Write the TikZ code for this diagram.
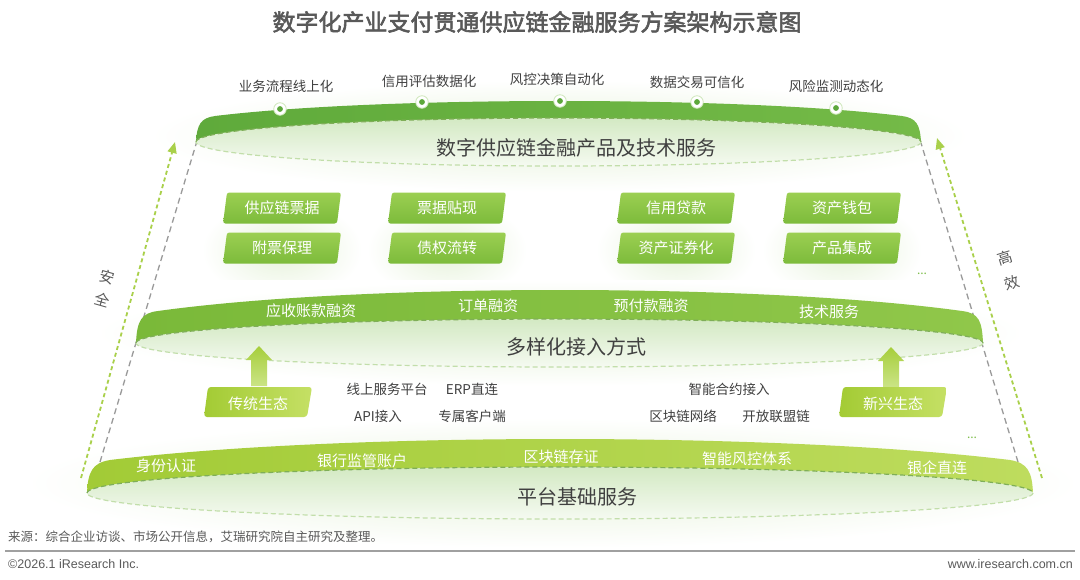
\documentclass[tikz,border=0pt]{standalone}
\usepackage{fontspec}
\setmainfont{Noto Sans CJK SC}[AutoFakeBold=2.5]
\newfontfamily\latinf{Liberation Sans}
\usetikzlibrary{arrows.meta}
\definecolor{txt}{HTML}{404040}
\definecolor{ttl}{HTML}{595959}
\definecolor{glow}{HTML}{E6F2DA}
\definecolor{topL}{HTML}{5FAA3B}
\definecolor{topR}{HTML}{74BA47}
\definecolor{midL}{HTML}{7AB939}
\definecolor{midR}{HTML}{90C74A}
\definecolor{botL}{HTML}{A2CB36}
\definecolor{botR}{HTML}{BEDC5E}
\definecolor{ellT}{HTML}{D3E9C3}
\definecolor{ellB}{HTML}{F5FAF1}
\definecolor{dashD}{HTML}{7FAE58}
\definecolor{dashL}{HTML}{C2DEAA}
\definecolor{boxT}{HTML}{9CCF52}
\definecolor{boxB}{HTML}{7CBB3B}
\definecolor{ecoL}{HTML}{A3CB34}
\definecolor{ecoR}{HTML}{C5E065}
\definecolor{arrTop}{HTML}{A6CE3B}
\definecolor{arrBot}{HTML}{CBE486}
\definecolor{arrG}{HTML}{A9D04A}
\definecolor{grayd}{HTML}{9A9A9A}
\definecolor{dotg}{HTML}{5DA83B}
\definecolor{dotring}{HTML}{CFE7BC}
\definecolor{dotsg}{HTML}{7DBE4A}
\definecolor{foot}{HTML}{5A5A5A}
\definecolor{rulec}{HTML}{A0A0A0}
\newcommand\gbox[4]{%
  \shade[top color=boxT,bottom color=boxB,rounded corners=2.5pt] (#2-55,#3-15.5) -- (#2+59,#3-15.5) -- (#2+55,#3+15.5) -- (#2-59,#3+15.5) -- cycle;
  \node[boxtxt] (#1) at (#2,#3) {#4};}
\newcommand\ecobox[4]{%
  \shade[left color=ecoL,right color=ecoR,rounded corners=3pt] (#2-50,#3-15) -- (#2+54,#3-15) -- (#2+49,#3+15) -- (#2-54,#3+15) -- cycle;
  \node[boxtxt] (#1) at (#2,#3+2) {#4};}
\newcommand\uparr[2]{%
  \shade[top color=arrTop,bottom color=arrBot] (#1,#2) -- (#1+13,#2+14) -- (#1+8,#2+14) -- (#1+8,#2+40) -- (#1-8,#2+40) -- (#1-8,#2+14) -- (#1-13,#2+14) -- cycle;}
\newcommand\colshadow[1]{%
  \shade[inner color=glow,outer color=white] (#1-80,200) rectangle (#1+80,300);}
\begin{document}
\begin{tikzpicture}[x=1pt,y=-1pt,
  lbl/.style={text=txt,font=\fontsize{13.5}{14}\selectfont,inner sep=0pt},
  wlbl/.style={text=white,font=\fontsize{15}{16}\selectfont,inner sep=0pt},
  bandttl/.style={text=txt,font=\fontsize{20}{22}\selectfont,inner sep=0pt},
  boxtxt/.style={text=white,font=\fontsize{15}{16}\selectfont,inner sep=0pt},
  side/.style={text=ttl,font=\fontsize{15}{16}\selectfont,inner sep=0pt},
  framedash/.style={draw=grayd,line width=1.3pt,dash pattern=on 6pt off 4pt},
  safearrow/.style={draw=arrG,line width=1.8pt,dash pattern=on 4pt off 3pt,-{Triangle[length=11pt,width=9pt]}},
  dot/.style={circle,fill=white,draw=dotring,line width=0.8pt,minimum size=12.5pt,inner sep=0pt,path picture={\fill[dotg] (path picture bounding box.center) circle (2.9pt);}},
  more/.style={text=dotsg,font=\fontsize{12}{12}\selectfont,inner sep=0pt},
  elldash/.style={line width=1.2pt,dash pattern=on 5pt off 3pt},
]
\useasboundingbox (0,0) rectangle (1080,579);
\fill[white] (0,0) rectangle (1080,579);

% glows
\colshadow{282}
\colshadow{447}
\colshadow{676}
\colshadow{842}
\shade[inner color=glow,outer color=white] (150,80) rectangle (970,192);
\shade[inner color=glow,outer color=white] (95,280) rectangle (1025,386);
\shade[inner color=glow,outer color=white] (25,418) rectangle (1080,548);

% title
\node[font=\fontsize{23}{24}\selectfont\bfseries,text=ttl,inner sep=0pt] (title) at (537,22) {数字化产业支付贯通供应链金融服务方案架构示意图};

% frame dashed lines and side arrows
\coordinate (gl1) at (100,462); \coordinate (gl2) at (197,141);
\draw[framedash] (gl1) -- (gl2);
\coordinate (gr1) at (1018,462); \coordinate (gr2) at (921,143);
\draw[framedash] (gr1) -- (gr2);
\coordinate (al1) at (81,478); \coordinate (al2) at (175,142);
\draw[safearrow] (al1) -- (al2);
\coordinate (ar1) at (1042,478); \coordinate (ar2) at (937,138);
\draw[safearrow] (ar1) -- (ar2);
\node[side,rotate=-16] (s1) at (107,277) {安};
\node[side,rotate=-16] (s2) at (102,300) {全};
\node[side,rotate=17] (e1) at (1005,258) {高};
\node[side,rotate=17] (e2) at (1012,283) {效};

% bottom band
\shade[left color=botL,right color=botR] (87,493) .. controls (88,472) and (92,463) .. (110,460) .. controls (340,432) and (780,432) .. (1010,460) .. controls (1028,463) and (1032,472) .. (1033,493) -- cycle;
\shade[top color=ellT,bottom color=ellB] (560,493) ellipse [x radius=473,y radius=26];
\draw[dashD,elldash] (87,493) arc[start angle=180,end angle=360,x radius=473,y radius=26];
\draw[dashL,elldash] (1033,493) arc[start angle=0,end angle=180,x radius=473,y radius=26];

% middle band
\shade[left color=midL,right color=midR] (136,343) .. controls (137,321) and (141,313) .. (158,311) .. controls (360,283) and (760,283) .. (962,311) .. controls (979,313) and (982,321) .. (983,343) -- cycle;
\shade[top color=ellT,bottom color=ellB] (559.5,343) ellipse [x radius=423.5,y radius=24];
\draw[dashD,elldash] (136,343) arc[start angle=180,end angle=360,x radius=423.5,y radius=24];
\draw[dashL,elldash] (983,343) arc[start angle=0,end angle=180,x radius=423.5,y radius=24];

% top band
\shade[left color=topL,right color=topR] (196,142) .. controls (197,124) and (201,118) .. (215,116) .. controls (380,96) and (740,96) .. (902,116) .. controls (916,118) and (920,124) .. (921,142) -- cycle;
\shade[top color=ellT,bottom color=ellB] (558.5,142) ellipse [x radius=362.5,y radius=24];
\draw[dashD,elldash] (196,142) arc[start angle=180,end angle=360,x radius=362.5,y radius=24];
\draw[dashL,elldash] (921,142) arc[start angle=0,end angle=180,x radius=362.5,y radius=24];

% top labels and dots
\node[lbl] (t1) at (286,86) {业务流程线上化};
\node[lbl] (t2) at (429,81) {信用评估数据化};
\node[lbl] (t3) at (557,79) {风控决策自动化};
\node[lbl] (t4) at (697,82) {数据交易可信化};
\node[lbl] (t5) at (836,86) {风险监测动态化};
\node[dot] (p1) at (280,109) {};
\node[dot] (p2) at (422,102) {};
\node[dot] (p3) at (560,101) {};
\node[dot] (p4) at (697,102) {};
\node[dot] (p5) at (836,108) {};
\node[bandttl] (b1) at (576,148) {数字供应链金融产品及技术服务};

% product boxes
\gbox{c11}{282}{208}{供应链票据}
\gbox{c12}{282}{248}{附票保理}
\gbox{c21}{447}{208}{票据贴现}
\gbox{c22}{447}{248}{债权流转}
\gbox{c31}{676}{208}{信用贷款}
\gbox{c32}{676}{248}{资产证券化}
\gbox{c41}{842}{208}{资产钱包}
\gbox{c42}{842}{248}{产品集成}
\node[more] (m1) at (922,274) {...};

% middle band labels
\node[wlbl] (f1) at (311,311) {应收账款融资};
\node[wlbl] (f2) at (488,306) {订单融资};
\node[wlbl] (f3) at (651,306) {预付款融资};
\node[wlbl] (f4) at (829,312) {技术服务};
\node[bandttl] (b2) at (576,347) {多样化接入方式};

% ecosystems
\uparr{259}{346}
\uparr{891}{347}
\ecobox{eco1}{258}{402}{传统生态}
\ecobox{eco2}{893}{402}{新兴生态}
\node[lbl] (a1) at (387,389) {线上服务平台};
\node[lbl] (a2) at (472,389) {ERP直连};
\node[lbl] (a3) at (378,416) {API接入};
\node[lbl] (a4) at (472,416) {专属客户端};
\node[lbl] (a5) at (729,389) {智能合约接入};
\node[lbl] (a6) at (683,416) {区块链网络};
\node[lbl] (a7) at (776,416) {开放联盟链};
\node[more] (m2) at (972,438) {...};

% bottom band labels
\node[wlbl] (g1) at (166,466) {身份认证};
\node[wlbl] (g2) at (362,461) {银行监管账户};
\node[wlbl] (g3) at (561,457) {区块链存证};
\node[wlbl] (g4) at (747,459) {智能风控体系};
\node[wlbl] (g5) at (937,468) {银企直连};
\node[bandttl] (b3) at (577,497) {平台基础服务};

% footer
\node[anchor=west,text=foot,font=\fontsize{12.5}{13}\selectfont,inner sep=0pt] (src) at (8,537) {来源：综合企业访谈、市场公开信息，艾瑞研究院自主研究及整理。};
\coordinate (r1) at (5,551); \coordinate (r2) at (1075,551);
\draw[rulec,line width=2pt] (r1) -- (r2);
\node[anchor=west,text=foot,font=\latinf\fontsize{12.5}{13}\selectfont,inner sep=0pt] (cr) at (8,564) {©2026.1 iResearch Inc.};
\node[anchor=east,text=foot,font=\latinf\fontsize{12.5}{13}\selectfont,inner sep=0pt] (web) at (1073,564) {www.iresearch.com.cn};
\end{tikzpicture}
\end{document}
